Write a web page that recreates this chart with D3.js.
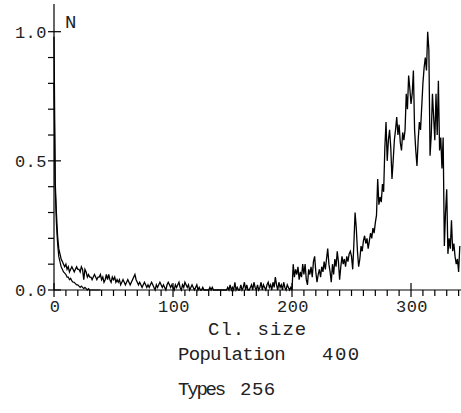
<!DOCTYPE html>
<html>
<head>
<meta charset="utf-8">
<script src="https://cdn.jsdelivr.net/npm/d3@7"></script>
<style>
  body { margin: 0; background: #fff; }
  text { font-family: "Liberation Mono", "DejaVu Sans Mono", monospace; fill: #222; }
</style>
</head>
<body>
<div id="chart"></div>
<script>
// cluster size distribution, normalised (N), two runs
const curveA = [
  0.98,0.42,0.30,0.21,0.16,0.14,0.12,0.11,0.10,0.09,
  0.10,0.08,0.09,0.07,0.08,0.09,0.08,0.07,0.08,0.09,
  0.08,0.08,0.07,0.09,0.08,0.04,0.08,0.07,0.05,0.06,
  0.05,0.05,0.04,0.05,0.06,0.05,0.04,0.05,0.05,0.06,
  0.04,0.05,0.03,0.04,0.06,0.04,0.06,0.04,0.03,0.05,
  0.04,0.05,0.03,0.04,0.03,0.04,0.02,0.03,0.04,0.03,
  0.02,0.03,0.04,0.03,0.02,0.03,0.04,0.05,0.06,0.04,
  0.03,0.02,0.03,0.02,0.01,0.02,0.03,0.02,0.01,0.02,
  0.01,0.02,0.03,0.02,0.01,0.00,0.02,0.01,0.02,0.03,
  0.02,0.01,0.02,0.01,0.00,0.02,0.03,0.02,0.01,0.02,
  0.01,0.00,0.02,0.01,0.02,0.03,0.01,0.00,0.02,0.01,
  0.03,0.02,0.01,0.02,0.00,0.01,0.02,0.01,0.00,0.01,
  0.02,0.00,0.01,0.00,0.00,0.01,0.00,0.00,0.00,0.00,
  0.00,0.01,0.00,0.01,0.00,0.00,0.00,0.00,0.00,0.00,
  0.00,0.00,0.00,0.00,0.00,0.00,0.01,0.00,0.02,0.00,
  0.01,0.00,0.03,0.00,0.01,0.00,0.00,0.02,0.00,0.01,
  0.03,0.00,0.02,0.00,0.00,0.01,0.02,0.00,0.03,0.01,
  0.00,0.02,0.00,0.01,0.03,0.00,0.02,0.01,0.00,0.02,
  0.03,0.01,0.02,0.00,0.03,0.01,0.05,0.02,0.00,0.03,
  0.01,0.02,0.00,0.03,0.01,0.00,0.02,0.01,0.00,0.01,
  0.00,0.10,0.05,0.08,0.06,0.09,0.04,0.07,0.05,0.10,
  0.06,0.10,0.04,0.02,0.08,0.06,0.09,0.05,0.11,0.13,
  0.07,0.03,0.06,0.08,0.05,0.09,0.07,0.11,0.08,0.12,
  0.16,0.10,0.07,0.03,0.10,0.06,0.12,0.09,0.15,0.11,
  0.04,0.09,0.13,0.10,0.12,0.09,0.13,0.11,0.14,0.15,
  0.13,0.08,0.18,0.30,0.24,0.15,0.09,0.12,0.17,0.15,
  0.19,0.21,0.18,0.20,0.16,0.19,0.22,0.20,0.24,0.22,
  0.26,0.29,0.43,0.33,0.36,0.34,0.41,0.38,0.55,0.65,
  0.50,0.58,0.62,0.55,0.43,0.50,0.58,0.62,0.67,0.60,
  0.64,0.57,0.54,0.61,0.58,0.62,0.76,0.70,0.83,0.78,
  0.72,0.76,0.85,0.62,0.54,0.48,0.58,0.65,0.62,0.71,
  0.80,0.86,0.90,0.85,1.00,0.93,0.52,0.60,0.76,0.67,
  0.58,0.76,0.60,0.81,0.54,0.59,0.47,0.59,0.17,0.30,
  0.39,0.14,0.20,0.16,0.27,0.15,0.18,0.13,0.10,0.12,
  0.07,0.17
];
const curveB = [
  0.80,0.40,0.26,0.18,0.13,0.11,0.09,0.08,0.07,0.065,
  0.06,0.05,0.05,0.04,0.045,0.035,0.03,0.03,0.025,0.02,
  0.02,0.015,0.01,0.015,0.01,0.005,0.01,0.005,0.0,0.005,
  0.0,0.0,0.0,0.0,0.0,0.0,0.0,0.0,0.0,0.0
];
const yMajor = [0, 0.5, 1.0];
const yMinor = [0.1, 0.2, 0.3, 0.4, 0.6, 0.7, 0.8, 0.9];
const xMajor = [0, 100, 200, 300];
const xMinor = [10,20,30,40,50,60,70,80,90,110,120,130,140,150,160,170,180,190,
                210,220,230,240,250,260,270,280,290,310,320,330,340];

const width = 461, height = 413;
const x0 = 54, x1 = 461, yBottom = 290, yTop = 31.7;

const svg = d3.select("#chart").append("svg")
    .attr("width", width).attr("height", height);

const x = d3.scaleLinear().domain([0, 342]).range([x0, x1]);
const y = d3.scaleLinear().domain([0, 1]).range([yBottom, yTop]);

const line = d3.line()
    .x(function(d, i) { return x(i); })
    .y(function(d) { return y(d); });

svg.append("path").datum(curveB)
    .attr("d", line).attr("fill", "none")
    .attr("stroke", "#000").attr("stroke-width", 1.2);
svg.append("path").datum(curveA)
    .attr("d", line).attr("fill", "none")
    .attr("stroke", "#000").attr("stroke-width", 1.3);

// axes (drawn by hand to get the cross ticks)
const ax = svg.append("g").attr("stroke", "#000").attr("stroke-width", 1.2);
ax.append("line").attr("x1", x0).attr("x2", x0).attr("y1", 4).attr("y2", yBottom);
ax.append("line").attr("x1", x0).attr("x2", x1).attr("y1", yBottom).attr("y2", yBottom);

ax.selectAll(".ymaj").data(yMajor).enter().append("line")
    .attr("x1", x0 - 6).attr("x2", x0 + 7)
    .attr("y1", function(d) { return y(d); }).attr("y2", function(d) { return y(d); });
ax.selectAll(".ymin").data(yMinor).enter().append("line")
    .attr("x1", x0 - 6).attr("x2", x0)
    .attr("y1", function(d) { return y(d); }).attr("y2", function(d) { return y(d); });
ax.selectAll(".xmaj").data(xMajor).enter().append("line")
    .attr("x1", function(d) { return x(d); }).attr("x2", function(d) { return x(d); })
    .attr("y1", yBottom - 7).attr("y2", yBottom + 7);
ax.selectAll(".xmin").data(xMinor).enter().append("line")
    .attr("x1", function(d) { return x(d); }).attr("x2", function(d) { return x(d); })
    .attr("y1", yBottom).attr("y2", yBottom + 6);

svg.selectAll(".ylab").data(yMajor).enter().append("text")
    .attr("x", 47).attr("y", function(d) { return y(d) + 6; })
    .attr("text-anchor", "end")
    .style("font-size", "17px").style("letter-spacing", "0.5px")
    .text(function(d) { return d3.format(".1f")(d); });

svg.selectAll(".xlab").data(xMajor).enter().append("text")
    .attr("x", function(d) { return x(d) + 1; }).attr("y", 312)
    .attr("text-anchor", "middle")
    .style("font-size", "17px").style("letter-spacing", "0.5px")
    .text(function(d) { return d; });

svg.append("text").attr("x", 65).attr("y", 28).style("font-size", "19px").text("N");
svg.append("text").attr("x", 208).attr("y", 335).style("font-size", "19px")
    .style("letter-spacing", "1px").text("Cl. size");
svg.append("text").attr("x", 178).attr("y", 360).style("font-size", "19px")
    .style("letter-spacing", "-0.7px").text("Population");
svg.append("text").attr("x", 322).attr("y", 360).style("font-size", "19px")
    .style("letter-spacing", "1.5px").text("400");
svg.append("text").attr("x", 178).attr("y", 395).style("font-size", "19px")
    .style("letter-spacing", "-2.2px").text("Types");
svg.append("text").attr("x", 240).attr("y", 395).style("font-size", "19px")
    .style("letter-spacing", "0.5px").text("256");
</script>
</body>
</html>
